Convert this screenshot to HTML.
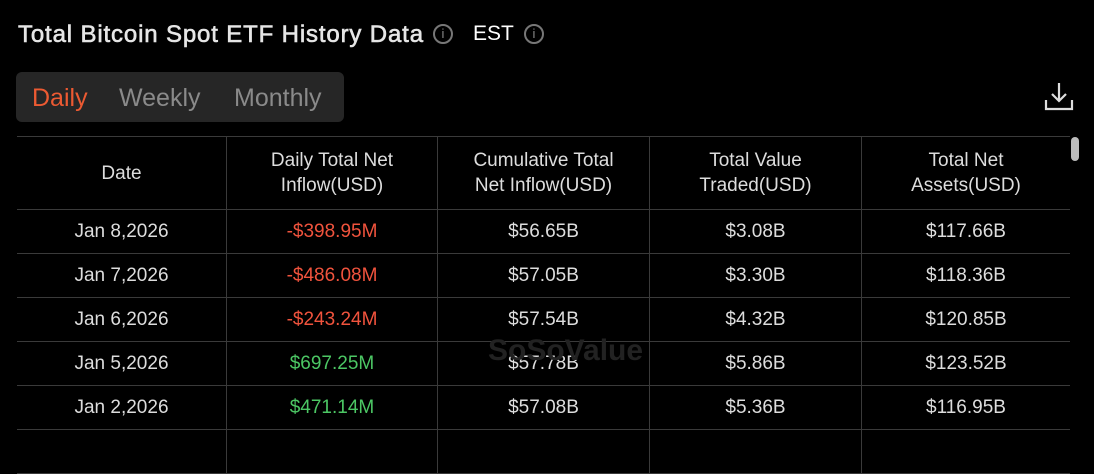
<!DOCTYPE html>
<html><head><meta charset="utf-8"><style>
body{margin:0;width:1094px;height:434px;background:#000;overflow:hidden;font-family:"Liberation Sans",sans-serif;color:#e0e0e0;position:relative}
.t{position:absolute;left:18px;top:21px;font-size:24px;color:#e6e6e6;letter-spacing:0.85px;-webkit-text-stroke:0.6px #e6e6e6}
.i{position:absolute;width:20px;height:20px;border:2px solid #777;border-radius:50%;box-sizing:border-box;color:#888;font-size:13px;text-align:center;line-height:16px}
.est{position:absolute;left:473px;top:22px;font-size:21px;color:#fff}
.tabs{position:absolute;left:16px;top:72px;width:328px;height:50px;background:#262626;border-radius:6px}
.tabs span{position:absolute;top:12px;font-size:25px;color:#8a8a8a}
table{position:absolute;left:17px;top:136px;border-collapse:collapse;width:1053px;font-size:19px}
td,th{border:1px solid #3a3a3a;text-align:center;font-weight:normal;color:#ddd;padding:0}
tr>*:first-child{border-left:none}tr>*:last-child{border-right:none}
th{height:72px;line-height:25px}
td{height:43px}
.r{color:#f0533d}.g{color:#4cc764}
.sb{position:absolute;left:1071px;top:137px;width:8px;height:24px;background:#bbb;border-radius:4px}
</style></head><body>
<div class="t">Total Bitcoin Spot ETF History Data</div>
<div class="i" style="left:433px;top:24px">i</div>
<div class="est">EST</div>
<div class="i" style="left:524px;top:24px">i</div>
<div class="tabs"><span style="left:16px;color:#ec5a32">Daily</span><span style="left:103px">Weekly</span><span style="left:218px">Monthly</span></div>
<svg style="position:absolute;left:1043px;top:80px" width="32" height="32" viewBox="0 0 32 32" fill="none" stroke="#ddd" stroke-width="2.2"><path d="M16 3v18M9 14l7 7 7-7M3 20v9h26v-9"/></svg>
<table>
<tr><th style="width:209px">Date</th><th style="width:210px">Daily Total Net<br>Inflow(USD)</th><th style="width:211px">Cumulative Total<br>Net Inflow(USD)</th><th style="width:211px">Total Value<br>Traded(USD)</th><th>Total Net<br>Assets(USD)</th></tr>
<tr><td>Jan 8,2026</td><td class="r">-$398.95M</td><td>$56.65B</td><td>$3.08B</td><td>$117.66B</td></tr>
<tr><td>Jan 7,2026</td><td class="r">-$486.08M</td><td>$57.05B</td><td>$3.30B</td><td>$118.36B</td></tr>
<tr><td>Jan 6,2026</td><td class="r">-$243.24M</td><td>$57.54B</td><td>$4.32B</td><td>$120.85B</td></tr>
<tr><td>Jan 5,2026</td><td class="g">$697.25M</td><td>$57.78B</td><td>$5.86B</td><td>$123.52B</td></tr>
<tr><td>Jan 2,2026</td><td class="g">$471.14M</td><td>$57.08B</td><td>$5.36B</td><td>$116.95B</td></tr>
<tr><td style="height:10px"></td><td></td><td></td><td></td><td></td></tr>
</table>
<div class="sb"></div>
<div style="position:absolute;left:488px;top:334px;font-size:30px;font-weight:bold;color:#222">SoSoValue</div>
</body></html>
